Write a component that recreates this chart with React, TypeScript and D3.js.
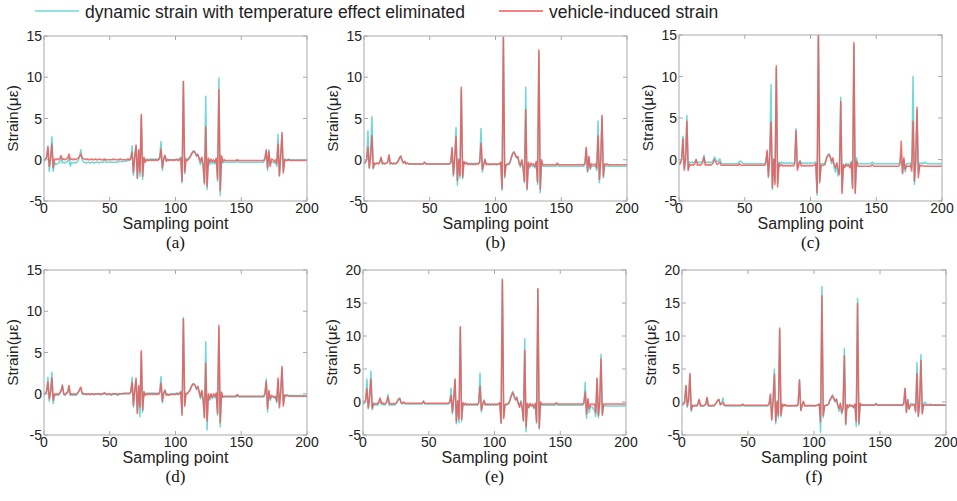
import React, { useEffect, useRef } from 'react';
import * as d3 from 'd3';

// sampling points 0..200, one value per point
const aDynamic = [
  -0.2, 0.0, 0.2, 1.7, -1.4, 0.0, 2.8, -1.4, -0.3, -0.6,
  -0.5, -0.4, -0.3, 0.3, -0.4, -0.3, -0.4, -0.3, -0.2, 0.3,
  -0.8, -0.3, -0.4, -0.3, -0.4, -0.3, -0.1, 0.3, 1.2, 0.0,
  -0.3, -0.3, -0.4, -0.3, -0.3, -0.4, -0.3, -0.3, -0.4, -0.3,
  -0.3, -0.3, -0.4, -0.3, -0.3, -0.3, 0.0, -0.3, -0.3, -0.3,
  -0.3, -0.3, -0.3, -0.3, -0.3, -0.3, -0.3, -0.2, -0.2, -0.2,
  -0.2, -0.2, -0.2, -0.1, -0.1, -0.1, 0.2, 1.7, -1.9, 0.5,
  1.6, -2.3, 1.0, -2.0, 5.3, -2.4, 0.2, -0.2, 0.1, 0.0,
  0.0, 0.1, 0.0, 0.1, 0.0, 0.1, 0.0, 0.1, 0.3, 2.2,
  -1.3, 0.2, 0.6, -0.1, 0.1, 0.0, 0.0, 0.0, 0.0, 0.0,
  0.0, 0.1, 0.0, 0.1, 0.3, -2.8, 9.5, -1.7, 0.2, 0.0,
  0.2, 0.4, 0.7, 1.0, 1.1, 0.9, 0.4, 0.7, 0.0, -0.6,
  0.2, -0.8, -3.0, 7.7, -3.6, 0.0, -0.6, -0.1, -0.5, -0.2,
  -0.5, 0.0, -2.6, 9.9, -4.3, 0.3, -0.4, -0.2, -0.3, -0.3,
  -0.3, -0.3, -0.3, -0.3, -0.3, -0.3, -0.3, -0.1, -0.3, -0.3,
  -0.3, -0.3, -0.3, -0.3, -0.3, -0.3, -0.3, -0.3, -0.3, -0.3,
  -0.3, -0.3, -0.3, -0.3, -0.3, -0.3, -0.3, -0.3, 0.0, 1.0,
  -1.3, 1.2, -0.6, -0.2, -0.3, -0.4, -0.2, -0.8, 3.1, -2.0,
  0.3, 3.0, -1.4, 0.1, 0.0, 0.0, 0.1, 0.0, 0.0, 0.0,
  0.0, 0.0, 0.0, 0.0, 0.0, 0.0, 0.0, 0.0, 0.0, 0.0, 0.0,
];
const aVehicle = [
  0.0, 0.1, 0.3, 1.5, -0.8, 0.2, 1.9, -1.0, 0.1, 0.0,
  0.1, 0.0, 0.2, 0.5, 0.0, 0.1, 0.0, 0.1, 0.2, 0.7,
  0.0, 0.1, 0.0, 0.1, 0.0, 0.1, 0.2, 0.4, 0.7, 0.2,
  0.1, 0.1, 0.0, 0.1, 0.0, 0.0, 0.1, 0.0, 0.0, 0.1,
  0.0, 0.0, 0.1, 0.0, 0.0, 0.0, 0.1, 0.0, 0.0, 0.0,
  0.0, 0.0, 0.0, 0.1, 0.0, 0.0, 0.0, 0.0, 0.1, 0.0,
  0.0, 0.0, 0.0, 0.0, 0.1, 0.0, 0.1, 0.9, -1.5, 0.3,
  1.8, -2.2, 1.2, -1.5, 5.5, -2.0, 0.3, -0.3, 0.0, -0.1,
  -0.1, 0.0, -0.1, 0.0, -0.1, 0.0, -0.1, 0.0, 0.1, 1.3,
  -1.0, 0.0, 0.5, -0.2, 0.0, -0.1, 0.0, -0.1, 0.0, -0.1,
  0.0, 0.0, -0.1, 0.0, 0.2, -2.6, 9.5, -1.5, 0.0, -0.1,
  0.1, 0.3, 0.6, 0.9, 1.0, 0.8, 0.5, 0.6, 0.2, -0.2,
  0.3, -0.5, -2.8, 4.0, -3.2, 0.2, -0.3, 0.1, -0.2, 0.0,
  -0.3, 0.2, -2.3, 8.5, -3.8, 0.5, -0.2, 0.0, -0.1, -0.1,
  -0.1, -0.1, -0.1, -0.1, -0.1, -0.1, -0.1, 0.0, -0.1, -0.1,
  -0.1, -0.1, -0.1, -0.1, -0.1, -0.1, -0.1, -0.1, -0.1, -0.1,
  -0.1, -0.1, -0.1, -0.1, -0.1, -0.1, -0.1, -0.1, 0.2, 1.2,
  -1.0, 1.0, -0.8, 0.1, 0.0, -0.2, 0.0, -0.5, 1.9, -1.9,
  0.5, 3.3, -1.6, 0.0, -0.1, -0.1, 0.0, -0.1, -0.1, -0.1,
  -0.1, -0.1, -0.1, -0.1, -0.1, -0.1, -0.1, -0.1, -0.1, -0.1, -0.1,
];

const bDynamic = [
  -0.5, -0.4, 0.0, 3.5, -1.0, 0.5, 5.2, -1.1, -0.5, -0.5,
  -0.4, -0.5, -0.3, 0.2, -0.5, -0.4, -0.5, -0.4, -0.3, 0.5,
  -0.5, -0.4, -0.5, -0.4, -0.5, -0.3, -0.1, 0.3, 0.5, -0.1,
  -0.4, -0.2, -0.5, -0.4, -0.5, -0.5, -0.5, -0.5, -0.5, -0.5,
  -0.5, -0.5, -0.5, -0.5, -0.5, -0.5, -0.3, -0.5, -0.5, -0.5,
  -0.5, -0.5, -0.5, -0.5, -0.5, -0.5, -0.5, -0.5, -0.5, -0.5,
  -0.5, -0.5, -0.5, -0.5, -0.5, -0.5, -0.3, 1.3, -2.0, 0.3,
  3.9, -3.1, 0.1, -2.2, 8.5, -2.3, -0.3, -0.4, -0.3, -0.5,
  -0.4, -0.5, -0.4, -0.5, -0.4, -0.5, -0.4, -0.5, -0.2, 3.8,
  -1.5, -0.5, 0.1, -0.5, -0.5, -0.6, -0.5, -0.6, -0.5, -0.6,
  -0.5, -0.6, -0.5, -0.5, -0.3, -3.7, 15.0, -2.2, -0.6, -0.6,
  -0.6, -0.4, 0.3, 0.8, 1.0, 0.7, 0.2, 0.3, -0.6, -0.9,
  -0.1, -1.0, -2.8, 8.8, -3.7, -0.5, -1.0, -0.6, -0.8, -0.7,
  -1.0, -0.3, -3.0, 13.0, -4.0, -0.2, -0.8, -0.8, -0.8, -0.8,
  -0.8, -0.8, -0.8, -0.8, -0.8, -0.8, -0.8, -0.6, -0.8, -0.8,
  -0.8, -0.8, -0.8, -0.8, -0.8, -0.8, -0.8, -0.8, -0.8, -0.8,
  -0.8, -0.8, -0.8, -0.8, -0.8, -0.8, -0.8, -0.8, -0.6, 1.3,
  -1.5, 0.3, -1.2, -0.7, -0.8, -0.8, -0.7, -1.3, 4.7, -2.8,
  -0.2, 5.2, -2.2, -0.7, -0.8, -0.7, -0.8, -0.8, -0.8, -0.8,
  -0.8, -0.8, -0.8, -0.8, -0.8, -0.8, -0.8, -0.8, -0.8, -0.8, -0.8,
];
const bVehicle = [
  -0.4, -0.3, 0.0, 1.5, -1.0, 0.3, 2.9, -1.0, -0.4, -0.5,
  -0.4, -0.5, -0.3, 0.3, -0.5, -0.4, -0.5, -0.4, -0.3, 0.6,
  -0.5, -0.4, -0.5, -0.4, -0.5, -0.4, -0.2, 0.2, 0.4, -0.1,
  -0.4, -0.2, -0.5, -0.4, -0.5, -0.5, -0.5, -0.5, -0.5, -0.5,
  -0.5, -0.5, -0.5, -0.5, -0.5, -0.5, -0.3, -0.5, -0.5, -0.5,
  -0.5, -0.5, -0.5, -0.5, -0.5, -0.5, -0.5, -0.5, -0.5, -0.5,
  -0.5, -0.5, -0.5, -0.5, -0.5, -0.5, -0.4, 1.5, -1.8, 0.2,
  2.8, -2.5, 0.0, -1.9, 8.8, -2.1, -0.2, -0.5, -0.4, -0.6,
  -0.5, -0.6, -0.5, -0.6, -0.5, -0.6, -0.5, -0.5, -0.3, 2.0,
  -1.2, -0.6, 0.0, -0.6, -0.5, -0.6, -0.5, -0.6, -0.5, -0.6,
  -0.5, -0.6, -0.5, -0.5, -0.3, -3.5, 14.8, -2.0, -0.6, -0.5,
  -0.5, -0.3, 0.2, 0.7, 0.9, 0.6, 0.3, 0.4, -0.3, -0.7,
  0.0, -0.9, -2.6, 6.1, -3.5, -0.3, -0.8, -0.4, -0.6, -0.5,
  -0.8, -0.2, -2.7, 13.3, -3.6, 0.0, -0.6, -0.6, -0.6, -0.6,
  -0.6, -0.6, -0.6, -0.6, -0.6, -0.6, -0.6, -0.4, -0.6, -0.6,
  -0.6, -0.6, -0.6, -0.6, -0.6, -0.6, -0.6, -0.6, -0.6, -0.6,
  -0.6, -0.6, -0.6, -0.6, -0.6, -0.6, -0.6, -0.6, -0.4, 1.5,
  -1.4, 0.4, -1.0, -0.5, -0.6, -0.6, -0.5, -1.0, 2.9, -2.4,
  0.0, 5.4, -2.0, -0.5, -0.6, -0.5, -0.6, -0.6, -0.6, -0.6,
  -0.6, -0.6, -0.6, -0.6, -0.6, -0.6, -0.6, -0.6, -0.6, -0.6, -0.6,
];

const cDynamic = [
  -0.4, -0.3, 0.0, 2.8, -1.0, 0.0, 5.3, -1.2, -0.3, -0.4,
  -0.3, -0.4, -0.3, 0.0, -0.4, -0.3, -0.4, -0.3, -0.2, 0.5,
  -0.4, -0.3, -0.4, -0.3, -0.4, -0.3, -0.1, 0.3, 0.0, -0.3,
  -0.2, 0.1, -0.4, -0.5, -0.5, -0.5, -0.5, -0.5, -0.5, -0.5,
  -0.5, -0.5, -0.5, -0.5, -0.5, -0.5, -0.2, -0.2, -0.4, -0.5,
  -0.5, -0.5, -0.5, -0.5, -0.5, -0.5, -0.5, -0.5, -0.5, -0.5,
  -0.5, -0.5, -0.5, -0.5, -0.5, -0.5, -0.3, 0.9, -2.2, 0.6,
  9.0, -3.6, 0.1, -2.6, 11.0, -2.9, -0.3, -0.5, -0.3, -0.5,
  -0.4, -0.5, -0.4, -0.5, -0.4, -0.5, -0.4, -0.5, -0.3, 3.7,
  -1.0, -0.5, -0.1, -0.5, -0.4, -0.5, -0.4, -0.5, -0.4, -0.5,
  -0.4, -0.5, -0.4, -0.4, -0.3, -4.3, 15.5, -2.5, -0.5, -0.5,
  -0.5, -0.4, 0.2, 0.5, 0.7, 0.4, -0.5, 0.0, -1.0, -1.5,
  -0.5, -2.0, -1.5, 7.5, -3.8, -0.6, -0.9, -0.5, -0.6, -0.5,
  -0.8, -0.2, -3.3, 13.8, -3.9, 0.2, -0.5, -0.5, -0.5, -0.5,
  -0.5, -0.5, -0.5, -0.5, -0.5, -0.5, -0.5, -0.3, -0.5, -0.5,
  -0.5, -0.5, -0.5, -0.5, -0.5, -0.5, -0.5, -0.5, -0.5, -0.5,
  -0.5, -0.5, -0.5, -0.5, -0.5, -0.5, -0.5, -0.5, -0.3, 0.5,
  -1.6, 0.0, -1.5, -0.5, -0.5, -0.5, -0.4, -1.0, 10.0, -3.0,
  -0.4, 5.9, -1.7, -0.4, -0.5, -0.4, -0.5, -0.3, -0.5, -0.5,
  -0.5, -0.5, -0.5, -0.5, -0.5, -0.5, -0.5, -0.5, -0.5, -0.5, -0.5,
];
const cVehicle = [
  -0.6, -0.5, 0.0, 2.5, -1.3, 0.0, 4.6, -1.3, -0.6, -0.7,
  -0.6, -0.7, -0.5, 0.0, -0.7, -0.6, -0.7, -0.6, -0.4, 0.3,
  -0.7, -0.6, -0.7, -0.6, -0.7, -0.6, -0.4, 0.0, -0.3, -0.6,
  -0.5, -0.3, -0.7, -0.7, -0.7, -0.7, -0.7, -0.7, -0.7, -0.7,
  -0.7, -0.7, -0.7, -0.7, -0.7, -0.7, -0.5, -0.7, -0.7, -0.7,
  -0.7, -0.7, -0.7, -0.7, -0.7, -0.7, -0.7, -0.7, -0.7, -0.7,
  -0.7, -0.7, -0.7, -0.7, -0.7, -0.7, -0.5, 1.1, -2.0, 0.5,
  4.5, -3.4, 0.0, -3.0, 11.3, -3.3, -0.5, -0.8, -0.6, -0.8,
  -0.7, -0.8, -0.7, -0.8, -0.7, -0.8, -0.7, -0.8, -0.5, 3.5,
  -1.3, -0.7, -0.2, -0.8, -0.7, -0.8, -0.7, -0.8, -0.7, -0.8,
  -0.7, -0.8, -0.7, -0.7, -0.5, -4.0, 15.5, -2.8, -0.8, -0.7,
  -0.7, -0.6, 0.0, 0.4, 0.6, 0.3, -0.2, 0.2, -0.6, -1.0,
  -0.4, -1.2, -1.8, 7.0, -4.1, -0.6, -1.0, -0.6, -0.8, -0.7,
  -1.0, -0.4, -3.5, 14.1, -4.1, -0.2, -0.8, -0.8, -0.8, -0.8,
  -0.8, -0.8, -0.8, -0.8, -0.8, -0.8, -0.8, -0.6, -0.8, -0.8,
  -0.8, -0.8, -0.8, -0.8, -0.8, -0.8, -0.8, -0.8, -0.8, -0.8,
  -0.8, -0.8, -0.8, -0.8, -0.8, -0.8, -0.8, -0.8, -0.6, 2.2,
  -1.7, 0.2, -1.2, -0.8, -0.8, -0.8, -0.7, -1.4, 4.6, -2.6,
  -0.2, 6.3, -2.2, -0.7, -0.8, -0.7, -0.8, -0.8, -0.8, -0.8,
  -0.8, -0.8, -0.8, -0.8, -0.8, -0.8, -0.8, -0.8, -0.8, -0.8, -0.8,
];

const dDynamic = [
  -0.2, 0.0, 0.3, 2.0, -0.9, 0.3, 2.6, -1.2, -0.2, -0.2,
  -0.1, -0.2, 0.0, 0.3, 1.1, -0.1, -0.2, 0.0, 0.1, 0.9,
  -0.2, -0.1, -0.2, -0.1, -0.2, -0.1, 0.1, 0.4, 0.7, 0.0,
  -0.1, 0.0, -0.1, -0.1, 0.0, -0.1, -0.1, 0.0, -0.1, -0.1,
  -0.1, 0.0, -0.1, -0.1, -0.1, 0.0, 0.1, -0.1, -0.1, -0.1,
  -0.1, -0.2, -0.1, -0.1, -0.1, -0.1, -0.2, -0.1, 0.0, 0.0,
  0.0, 0.1, 0.1, 0.1, 0.1, 0.1, 0.3, 2.0, -1.6, 0.5,
  1.6, -2.3, 0.8, -2.8, 5.0, -2.2, 0.3, -0.1, 0.1, 0.0,
  0.1, 0.0, 0.1, 0.0, 0.1, 0.0, 0.1, 0.0, 0.2, 2.1,
  -1.1, 0.1, 0.5, -0.1, 0.0, -0.1, 0.0, 0.0, 0.0, 0.0,
  0.0, 0.1, 0.0, 0.1, 0.3, -2.4, 9.2, -1.3, 0.1, 0.1,
  0.3, 0.5, 0.9, 1.2, 1.2, 0.9, 0.5, 0.8, 0.1, -0.6,
  0.3, -0.9, -2.8, 6.3, -4.4, -0.2, -0.8, -0.1, -0.6, -0.2,
  -0.5, 0.0, -2.6, 8.0, -4.0, 0.1, -0.4, -0.4, -0.4, -0.4,
  -0.4, -0.4, -0.4, -0.4, -0.4, -0.4, -0.4, -0.1, -0.4, -0.4,
  -0.4, -0.4, -0.4, -0.4, -0.4, -0.4, -0.4, -0.4, -0.4, -0.4,
  -0.4, -0.4, -0.4, -0.4, -0.4, -0.4, -0.4, -0.4, -0.1, 1.8,
  -2.2, 0.3, -0.8, -0.4, -0.4, -0.5, -0.4, -1.1, 1.6, -1.4,
  0.2, 3.1, -1.2, -0.1, -0.2, -0.1, -0.2, -0.2, -0.2, -0.2,
  -0.2, -0.2, -0.2, -0.2, -0.2, -0.2, -0.2, -0.2, -0.2, -0.2, -0.2,
];
const dVehicle = [
  0.0, 0.0, 0.3, 1.4, -0.6, 0.2, 1.9, -0.8, 0.0, -0.1,
  0.0, -0.1, 0.1, 0.4, 1.0, 0.0, -0.1, 0.1, 0.2, 1.0,
  -0.1, 0.0, -0.1, 0.0, -0.1, 0.0, 0.2, 0.5, 0.8, 0.1,
  0.0, 0.0, -0.1, 0.0, 0.0, -0.1, 0.0, 0.0, -0.1, 0.0,
  0.0, 0.0, 0.0, -0.1, 0.0, 0.0, 0.1, 0.0, -0.1, 0.0,
  0.0, -0.1, 0.0, 0.0, 0.0, 0.0, -0.1, 0.0, 0.0, 0.0,
  0.0, 0.0, 0.0, 0.0, 0.0, 0.0, 0.2, 1.4, -1.4, 0.4,
  1.9, -2.4, 1.0, -1.6, 5.2, -2.0, 0.2, -0.2, 0.0, -0.1,
  0.0, -0.1, 0.0, -0.1, 0.0, -0.1, 0.0, -0.1, 0.1, 1.3,
  -0.9, 0.0, 0.4, -0.2, -0.1, -0.2, -0.1, -0.1, -0.1, -0.1,
  -0.1, 0.0, -0.1, 0.0, 0.2, -2.6, 9.1, -1.5, 0.0, 0.0,
  0.2, 0.4, 0.8, 1.1, 1.2, 1.0, 0.6, 0.9, 0.3, -0.4,
  0.4, -0.6, -2.9, 3.7, -3.3, 0.0, -0.6, 0.0, -0.4, 0.0,
  -0.3, 0.1, -2.4, 8.3, -3.5, 0.2, -0.4, -0.3, -0.3, -0.3,
  -0.3, -0.3, -0.3, -0.3, -0.3, -0.3, -0.3, -0.1, -0.3, -0.3,
  -0.3, -0.3, -0.3, -0.3, -0.3, -0.3, -0.3, -0.3, -0.3, -0.3,
  -0.3, -0.3, -0.3, -0.3, -0.3, -0.3, -0.3, -0.3, 0.0, 1.5,
  -1.8, 0.4, -0.6, -0.2, -0.3, -0.4, -0.3, -0.9, 1.9, -1.7,
  0.3, 3.3, -1.5, -0.2, -0.3, -0.2, -0.3, -0.3, -0.3, -0.3,
  -0.3, -0.3, -0.3, -0.3, -0.3, -0.3, -0.3, -0.3, -0.3, -0.3, -0.3,
];

const eDynamic = [
  -0.3, -0.2, 0.3, 3.5, -1.0, 0.7, 4.7, -1.2, -0.4, -0.5,
  -0.4, -0.5, -0.2, 0.5, -0.4, -0.3, -0.5, -0.4, -0.1, 1.1,
  -0.5, -0.4, -0.5, -0.4, -0.5, -0.3, 0.0, 0.5, 0.6, -0.2,
  -0.3, -0.1, -0.3, -0.3, -0.3, -0.3, -0.3, -0.3, -0.3, -0.3,
  -0.3, -0.3, -0.3, -0.3, -0.3, -0.3, 0.2, -0.3, -0.3, -0.3,
  -0.3, -0.3, -0.3, -0.3, -0.3, -0.3, -0.3, -0.3, -0.3, -0.3,
  -0.3, -0.3, -0.3, -0.3, -0.3, -0.3, -0.1, 2.1, -1.8, 0.6,
  3.4, -3.3, 0.1, -3.1, 11.2, -3.0, -0.3, -0.5, -0.3, -0.5,
  -0.4, -0.5, -0.4, -0.5, -0.4, -0.5, -0.4, -0.5, -0.2, 4.4,
  -1.5, -0.4, 0.3, -0.5, -0.4, -0.5, -0.4, -0.5, -0.4, -0.5,
  -0.4, -0.5, -0.4, -0.4, -0.2, -3.2, 18.4, -2.3, -0.5, -0.4,
  -0.4, -0.2, 0.5, 1.2, 1.6, 1.0, 0.4, 0.8, -0.1, -0.6,
  0.2, -0.6, -2.9, 9.6, -4.5, -0.3, -0.9, -0.4, -0.7, -0.5,
  -1.0, -0.3, -3.2, 17.0, -4.1, -0.2, -0.5, -0.5, -0.5, -0.5,
  -0.5, -0.5, -0.5, -0.5, -0.5, -0.5, -0.5, -0.3, -0.5, -0.5,
  -0.5, -0.5, -0.5, -0.5, -0.5, -0.5, -0.5, -0.5, -0.5, -0.5,
  -0.5, -0.5, -0.5, -0.5, -0.5, -0.5, -0.5, -0.5, -0.3, 3.0,
  -2.5, 0.4, -1.6, -0.6, -0.7, -1.0, -1.2, -2.2, 3.5, -2.4,
  -0.5, 7.2, -1.8, -0.5, -0.6, -0.5, -0.6, -0.6, -0.6, -0.6,
  -0.6, -0.6, -0.6, -0.6, -0.6, -0.6, -0.6, -0.6, -0.6, -0.6, -0.6,
];
const eVehicle = [
  -0.1, 0.0, 0.3, 2.0, -0.9, 0.5, 3.5, -0.9, -0.2, -0.3,
  -0.2, -0.3, 0.0, 0.6, -0.2, -0.1, -0.3, -0.2, 0.0, 0.8,
  -0.3, -0.2, -0.3, -0.2, -0.3, -0.2, 0.1, 0.4, 0.5, -0.1,
  -0.2, 0.0, -0.2, -0.2, -0.2, -0.2, -0.2, -0.2, -0.2, -0.2,
  -0.2, -0.2, -0.2, -0.2, -0.2, -0.2, 0.1, -0.2, -0.2, -0.2,
  -0.2, -0.2, -0.2, -0.2, -0.2, -0.2, -0.2, -0.2, -0.2, -0.2,
  -0.2, -0.2, -0.2, -0.2, -0.2, -0.2, 0.0, 1.0, -1.5, 0.5,
  3.5, -3.0, 0.2, -2.6, 11.4, -2.6, -0.1, -0.4, -0.2, -0.4,
  -0.3, -0.4, -0.3, -0.4, -0.3, -0.4, -0.3, -0.4, -0.1, 2.4,
  -1.2, -0.3, 0.2, -0.4, -0.3, -0.4, -0.3, -0.4, -0.3, -0.4,
  -0.3, -0.4, -0.3, -0.3, -0.1, -3.2, 18.6, -2.5, -0.4, -0.3,
  -0.3, -0.1, 0.4, 1.0, 1.4, 0.8, 0.3, 0.6, -0.2, -0.8,
  0.0, -0.9, -2.8, 7.8, -3.8, -0.2, -0.8, -0.2, -0.5, -0.3,
  -0.8, -0.2, -3.0, 17.2, -3.9, 0.0, -0.3, -0.3, -0.3, -0.3,
  -0.3, -0.3, -0.3, -0.3, -0.3, -0.3, -0.3, -0.1, -0.3, -0.3,
  -0.3, -0.3, -0.3, -0.3, -0.3, -0.3, -0.3, -0.3, -0.3, -0.3,
  -0.3, -0.3, -0.3, -0.3, -0.3, -0.3, -0.3, -0.3, -0.1, 1.5,
  -1.8, 0.5, -1.0, -0.3, -0.3, -0.4, -0.3, -1.6, 3.6, -2.0,
  -0.1, 6.5, -2.0, -0.3, -0.3, -0.3, -0.3, -0.3, -0.3, -0.3,
  -0.3, -0.3, -0.3, -0.3, -0.3, -0.3, -0.3, -0.3, -0.3, -0.3, -0.3,
];

const fDynamic = [
  -0.5, -0.4, 0.0, 2.4, -0.8, 0.2, 4.2, -1.4, -0.5, -0.6,
  -0.5, -0.6, -0.4, 0.3, -0.6, -0.5, -0.6, -0.5, -0.4, 0.6,
  -0.6, -0.5, -0.6, -0.5, -0.6, -0.4, -0.1, 0.3, 0.3, -0.4,
  -0.2, 0.6, -0.5, -0.6, -0.6, -0.6, -0.6, -0.6, -0.6, -0.6,
  -0.6, -0.6, -0.6, -0.6, -0.6, -0.6, -0.4, -0.6, -0.6, -0.6,
  -0.6, -0.6, -0.6, -0.6, -0.6, -0.6, -0.6, -0.6, -0.6, -0.6,
  -0.6, -0.6, -0.6, -0.6, -0.6, -0.6, -0.3, 1.0, -2.8, 0.4,
  5.0, -3.3, 0.2, -2.4, 11.0, -2.2, -0.4, -0.6, -0.4, -0.6,
  -0.5, -0.6, -0.5, -0.6, -0.5, -0.6, -0.5, -0.6, -0.3, 3.4,
  -1.2, -0.5, 0.0, -0.6, -0.5, -0.6, -0.5, -0.6, -0.5, -0.6,
  -0.5, -0.6, -0.5, -0.5, -0.3, -4.6, 17.5, -2.4, -0.6, -0.5,
  -0.5, -0.3, 0.3, 0.7, 1.1, 0.6, 0.0, 0.5, -0.6, -1.4,
  -0.3, -1.8, -1.0, 8.1, -3.5, -0.5, -0.9, -0.4, -0.6, -0.5,
  -0.9, -0.4, -3.7, 15.7, -3.5, -0.3, -0.4, -0.4, -0.4, -0.4,
  -0.4, -0.4, -0.4, -0.4, -0.4, -0.4, -0.4, -0.2, -0.4, -0.4,
  -0.4, -0.4, -0.4, -0.4, -0.4, -0.4, -0.4, -0.4, -0.4, -0.4,
  -0.4, -0.4, -0.4, -0.4, -0.4, -0.4, -0.4, -0.4, -0.2, 2.0,
  -1.5, 0.4, -1.0, -0.3, -0.2, -0.3, -0.3, -1.3, 6.0, -2.0,
  -0.2, 7.2, -1.6, -0.3, 0.0, -0.3, -0.4, -0.4, -0.3, -0.4,
  -0.4, -0.4, -0.4, -0.4, -0.4, -0.4, -0.4, -0.4, -0.4, -0.4, -0.4,
];
const fVehicle = [
  -0.4, -0.3, 0.0, 2.5, -0.6, 0.3, 4.3, -1.2, -0.5, -0.6,
  -0.5, -0.6, -0.3, 0.4, -0.6, -0.5, -0.6, -0.5, -0.3, 0.7,
  -0.6, -0.5, -0.6, -0.5, -0.6, -0.4, -0.1, 0.2, 0.4, -0.4,
  -0.3, -0.1, -0.5, -0.5, -0.5, -0.5, -0.5, -0.5, -0.5, -0.5,
  -0.5, -0.5, -0.5, -0.5, -0.5, -0.5, -0.3, -0.5, -0.5, -0.5,
  -0.5, -0.5, -0.5, -0.5, -0.5, -0.5, -0.5, -0.5, -0.5, -0.5,
  -0.5, -0.5, -0.5, -0.5, -0.5, -0.5, -0.3, 1.2, -2.6, 0.2,
  4.2, -2.9, 0.0, -2.0, 11.2, -2.0, -0.3, -0.6, -0.4, -0.6,
  -0.5, -0.6, -0.5, -0.6, -0.5, -0.6, -0.5, -0.6, -0.3, 3.3,
  -1.3, -0.5, 0.1, -0.6, -0.5, -0.6, -0.5, -0.6, -0.5, -0.6,
  -0.5, -0.6, -0.5, -0.5, -0.3, -3.0, 16.1, -2.0, -0.6, -0.5,
  -0.5, -0.3, 0.2, 0.6, 0.9, 0.5, 0.1, 0.4, -0.4, -1.0,
  -0.2, -1.6, -0.9, 7.0, -3.3, -0.4, -0.8, -0.4, -0.6, -0.5,
  -0.8, -0.3, -3.0, 14.9, -3.2, -0.2, -0.5, -0.5, -0.5, -0.5,
  -0.5, -0.5, -0.5, -0.5, -0.5, -0.5, -0.5, -0.3, -0.5, -0.5,
  -0.5, -0.5, -0.5, -0.5, -0.5, -0.5, -0.5, -0.5, -0.5, -0.5,
  -0.5, -0.5, -0.5, -0.5, -0.5, -0.5, -0.5, -0.5, -0.3, 2.1,
  -1.6, 0.3, -1.1, -0.5, -0.5, -0.5, -0.4, -1.5, 4.3, -2.2,
  -0.3, 6.3, -1.8, -0.4, -0.5, -0.4, -0.5, -0.5, -0.5, -0.5,
  -0.5, -0.5, -0.5, -0.5, -0.5, -0.5, -0.5, -0.5, -0.5, -0.5, -0.5,
];

const xTicks = [0, 50, 100, 150, 200];
const yTicks15 = [-5, 0, 5, 10, 15];
const yTicks20 = [-5, 0, 5, 10, 15, 20];
const captions = ['(a)', '(b)', '(c)', '(d)', '(e)', '(f)'];
const legendLabels = ['dynamic strain with temperature effect eliminated', 'vehicle-induced strain'];

const CYAN = '#6fd8d8';
const RED = '#f05858';
const AXIS = '#aaaaaa';
const SANS = 'Arial, "Liberation Sans", sans-serif';

const panels = [
  { dyn: aDynamic, veh: aVehicle, yTicks: yTicks15, left: 44, top: 36, w: 263, h: 165 },
  { dyn: bDynamic, veh: bVehicle, yTicks: yTicks15, left: 364, top: 36, w: 263, h: 165 },
  { dyn: cDynamic, veh: cVehicle, yTicks: yTicks15, left: 679, top: 35, w: 263, h: 166 },
  { dyn: dDynamic, veh: dVehicle, yTicks: yTicks15, left: 44, top: 270, w: 263, h: 165 },
  { dyn: eDynamic, veh: eVehicle, yTicks: yTicks20, left: 363, top: 270, w: 263, h: 165 },
  { dyn: fDynamic, veh: fVehicle, yTicks: yTicks20, left: 682, top: 270, w: 264, h: 165 },
];

const App = () => {
  const svgRef = useRef<SVGSVGElement>(null);

  useEffect(() => {
    const svg = d3.select(svgRef.current);
    svg.selectAll('*').remove();

    // legend
    const legend = svg.append('g');
    const legendItems = [
      { label: legendLabels[0], color: CYAN, x: 35 },
      { label: legendLabels[1], color: RED, x: 499 },
    ];
    legendItems.forEach(item => {
      legend.append('line')
        .attr('x1', item.x).attr('x2', item.x + 44)
        .attr('y1', 11).attr('y2', 11)
        .attr('stroke', item.color).attr('stroke-width', 1.5);
      legend.append('text')
        .attr('x', item.x + 50).attr('y', 18)
        .attr('font-family', SANS).attr('font-size', 17.5)
        .attr('fill', '#222')
        .text(item.label);
    });

    panels.forEach((p, i) => {
      const yMax = p.yTicks[p.yTicks.length - 1];
      const x = d3.scaleLinear().domain([0, 200]).range([0, p.w]);
      const y = d3.scaleLinear().domain([-5, yMax]).range([p.h, 0]);

      const g = svg.append('g').attr('transform', `translate(${p.left},${p.top})`);
      const clipId = `clip-${i}`;
      g.append('clipPath').attr('id', clipId)
        .append('rect').attr('width', p.w).attr('height', p.h);

      const line = d3.line<number>()
        .x((_, j) => x(j))
        .y(d => y(d));

      const plot = g.append('g').attr('clip-path', `url(#${clipId})`);
      plot.append('path')
        .attr('d', line(p.dyn))
        .attr('fill', 'none')
        .attr('stroke', CYAN)
        .attr('stroke-width', 1.5)
        .attr('stroke-linejoin', 'round');
      plot.append('path')
        .attr('d', line(p.veh))
        .attr('fill', 'none')
        .attr('stroke', RED)
        .attr('stroke-width', 1.5)
        .attr('stroke-opacity', 0.85)
        .attr('stroke-linejoin', 'round');

      // box
      g.append('rect')
        .attr('width', p.w).attr('height', p.h)
        .attr('fill', 'none').attr('stroke', AXIS).attr('stroke-width', 1);

      // ticks on all four sides, pointing in
      p.yTicks.forEach(t => {
        g.append('line').attr('x1', 0).attr('x2', 4).attr('y1', y(t)).attr('y2', y(t)).attr('stroke', AXIS);
        g.append('line').attr('x1', p.w - 4).attr('x2', p.w).attr('y1', y(t)).attr('y2', y(t)).attr('stroke', AXIS);
        g.append('text')
          .attr('x', -2).attr('y', y(t)).attr('dy', '0.36em')
          .attr('text-anchor', 'end')
          .attr('font-family', SANS).attr('font-size', 14).attr('fill', '#222')
          .text(t);
      });
      xTicks.forEach(t => {
        g.append('line').attr('x1', x(t)).attr('x2', x(t)).attr('y1', p.h).attr('y2', p.h - 4).attr('stroke', AXIS);
        g.append('line').attr('x1', x(t)).attr('x2', x(t)).attr('y1', 0).attr('y2', 4).attr('stroke', AXIS);
        g.append('text')
          .attr('x', x(t)).attr('y', p.h + 12)
          .attr('text-anchor', 'middle')
          .attr('font-family', SANS).attr('font-size', 14).attr('fill', '#222')
          .text(t);
      });

      g.append('text')
        .attr('x', p.w / 2).attr('y', p.h + 28)
        .attr('text-anchor', 'middle')
        .attr('font-family', SANS).attr('font-size', 16).attr('fill', '#222')
        .text('Sampling point');

      g.append('text')
        .attr('transform', `translate(-26,${p.h / 2}) rotate(-90)`)
        .attr('text-anchor', 'middle')
        .attr('font-family', SANS).attr('font-size', 15.5).attr('fill', '#222')
        .text('Strain(με)');

      g.append('text')
        .attr('x', p.w / 2).attr('y', p.h + 47)
        .attr('text-anchor', 'middle')
        .attr('font-family', '"Times New Roman", "Liberation Serif", serif')
        .attr('font-size', 17).attr('fill', '#111')
        .text(captions[i]);
    });
  }, []);

  return (
    <svg
      ref={svgRef}
      width={957}
      height={501}
      style={{ position: 'absolute', left: 0, top: 0, background: '#fff' }}
    />
  );
};

export default App;
